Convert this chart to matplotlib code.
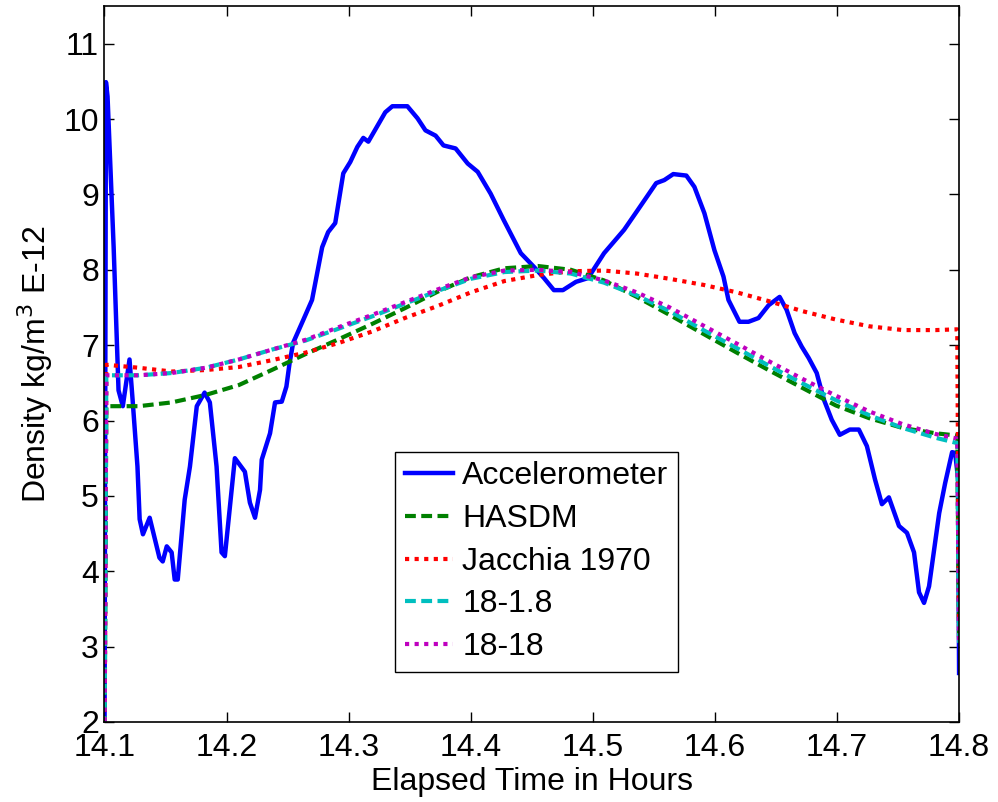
import matplotlib
matplotlib.use("Agg")
import matplotlib.pyplot as plt

# elapsed time (hours) and density (kg/m^3 E-12)
t_acc = [14.1, 14.1012, 14.1025, 14.1075, 14.1115, 14.115, 14.1205, 14.123, 14.127,
         14.1288, 14.1315, 14.137, 14.145, 14.1477, 14.151, 14.155, 14.1575, 14.160,
         14.1657, 14.170, 14.1756, 14.182, 14.1863, 14.1918, 14.1959, 14.1986, 14.2068,
         14.215, 14.2191, 14.2233, 14.2274, 14.2288, 14.2356, 14.2397, 14.2452, 14.249,
         14.2515, 14.2545, 14.2627, 14.270, 14.2783, 14.2832, 14.289, 14.2956, 14.3013,
         14.3071, 14.312, 14.3161, 14.330, 14.3358, 14.3481, 14.3564, 14.3629, 14.3712,
         14.3777, 14.3876, 14.3975, 14.4057, 14.4163, 14.427, 14.441, 14.4517, 14.46,
         14.4681, 14.4755, 14.4862, 14.4961, 14.5092, 14.5256, 14.5371, 14.5519, 14.5585,
         14.5659, 14.5766, 14.5832, 14.5914, 14.5996, 14.607, 14.6111, 14.6201, 14.6275,
         14.6357, 14.644, 14.653, 14.6587, 14.6653, 14.6711, 14.6768, 14.6834, 14.6892,
         14.6957, 14.7023, 14.7105, 14.7179, 14.7245, 14.7311, 14.7368, 14.7425, 14.7508,
         14.7573, 14.7631, 14.7672, 14.7713, 14.7754, 14.7837, 14.7886, 14.7943, 14.7968,
         14.7992, 14.8]
acc = [1.5, 10.49, 10.3, 8.3, 6.4, 6.19, 6.81, 6.28, 5.39,
       4.69, 4.49, 4.71, 4.18, 4.13, 4.33, 4.25, 3.89, 3.89,
       4.95, 5.39, 6.19, 6.37, 6.24, 5.39, 4.25, 4.2, 5.5,
       5.32, 4.91, 4.71, 5.08, 5.48, 5.83, 6.24, 6.25, 6.45,
       6.75, 7.03, 7.33, 7.6, 8.3, 8.5, 8.62, 9.28, 9.43,
       9.63, 9.75, 9.7, 10.09, 10.17, 10.17, 10.01, 9.85, 9.78,
       9.65, 9.61, 9.41, 9.3, 9.01, 8.66, 8.22, 8.04, 7.89,
       7.73, 7.73, 7.84, 7.89, 8.22, 8.53, 8.8, 9.15, 9.19,
       9.27, 9.25, 9.1, 8.75, 8.26, 7.91, 7.6, 7.31, 7.31,
       7.36, 7.53, 7.64, 7.47, 7.16, 6.98, 6.83, 6.63, 6.28,
       6.01, 5.81, 5.88, 5.88, 5.66, 5.22, 4.89, 4.98, 4.6,
       4.51, 4.25, 3.72, 3.58, 3.8, 4.77, 5.17, 5.58, 5.57,
       5.22, 2.65]

t_mod = [14.1, 14.1015, 14.128, 14.155, 14.183, 14.210, 14.237, 14.2645, 14.292,
         14.319, 14.346, 14.373, 14.400, 14.4275, 14.455, 14.482, 14.509, 14.536,
         14.563, 14.5905, 14.618, 14.645, 14.672, 14.699, 14.7265, 14.754, 14.781,
         14.7985, 14.8]
hasdm = [1.5, 6.19, 6.19, 6.24, 6.34, 6.47, 6.67, 6.88, 7.08,
         7.28, 7.49, 7.71, 7.9, 8.02, 8.05, 8.0, 7.86, 7.64,
         7.4, 7.15, 6.9, 6.66, 6.43, 6.2, 6.03, 5.9, 5.83,
         5.8, 3.05]
jacchia = [1.5, 6.74, 6.7, 6.65, 6.67, 6.71, 6.8, 6.9, 7.03,
           7.18, 7.36, 7.52, 7.7, 7.85, 7.93, 7.98, 7.99, 7.95,
           7.88, 7.8, 7.7, 7.58, 7.45, 7.34, 7.25, 7.2, 7.2,
           7.21, 3.05]
m18_1_8 = [1.5, 6.6, 6.6, 6.63, 6.7, 6.81, 6.94, 7.06, 7.22,
           7.38, 7.55, 7.72, 7.88, 7.97, 7.99, 7.95, 7.83, 7.66,
           7.45, 7.2, 6.96, 6.72, 6.49, 6.27, 6.07, 5.9, 5.77,
           5.7, 3.05]
m18_18 = [1.5, 6.6, 6.6, 6.63, 6.7, 6.81, 6.94, 7.07, 7.24,
          7.4, 7.57, 7.74, 7.9, 7.99, 8.0, 7.97, 7.86, 7.7,
          7.5, 7.26, 7.02, 6.78, 6.55, 6.33, 6.12, 5.95, 5.82,
          5.76, 3.05]

xticks = [14.1, 14.2, 14.3, 14.4, 14.5, 14.6, 14.7, 14.8]
yticks = [2, 3, 4, 5, 6, 7, 8, 9, 10, 11]

plt.rcParams['font.family'] = ['Liberation Sans', 'DejaVu Sans']
fs = 23

fig = plt.figure(figsize=(9.98, 8.02), dpi=100)
ax = fig.add_axes([0.1047, 0.0998, 0.8563, 0.8927])

ax.plot(t_acc, acc, color='#0000ff', lw=3.2, label='Accelerometer')
ax.plot(t_mod, hasdm, color='#008000', lw=3, dashes=(2.6, 1.3), label='HASDM')
ax.plot(t_mod, jacchia, color='#ff0000', lw=3, dashes=(1.0, 1.3), label='Jacchia 1970')
ax.plot(t_mod, m18_1_8, color='#00bfbf', lw=3, dashes=(2.6, 1.3), label='18-1.8')
ax.plot(t_mod, m18_18, color='#bf00bf', lw=3, dashes=(1.0, 1.3), label='18-18')

ax.set_xlim(14.1, 14.8)
ax.set_ylim(2, 11.5)
ax.set_xticks(xticks)
ax.set_xticklabels([str(v) for v in xticks])
ax.set_yticks(yticks)
ax.tick_params(direction='in', top=True, right=True, length=7, width=1,
               labelsize=fs)
ax.tick_params(axis='x', pad=8)
ax.tick_params(axis='y', pad=4)
for s in ax.spines.values():
    s.set_linewidth(1.2)

ax.set_xlabel('Elapsed Time in Hours', fontsize=fs, labelpad=3)
ax.set_ylabel('Density kg/m$^3$ E-12', fontsize=fs, labelpad=6)

leg = ax.legend(loc='lower left', bbox_to_anchor=(0.34, 0.07), fontsize=fs,
                fancybox=False, edgecolor='black', framealpha=1,
                handlelength=1.5, handletextpad=0.3, labelspacing=0.4,
                borderpad=0.3, borderaxespad=0)
leg.get_frame().set_linewidth(1.0)

fig.savefig('out.png', dpi=100)
